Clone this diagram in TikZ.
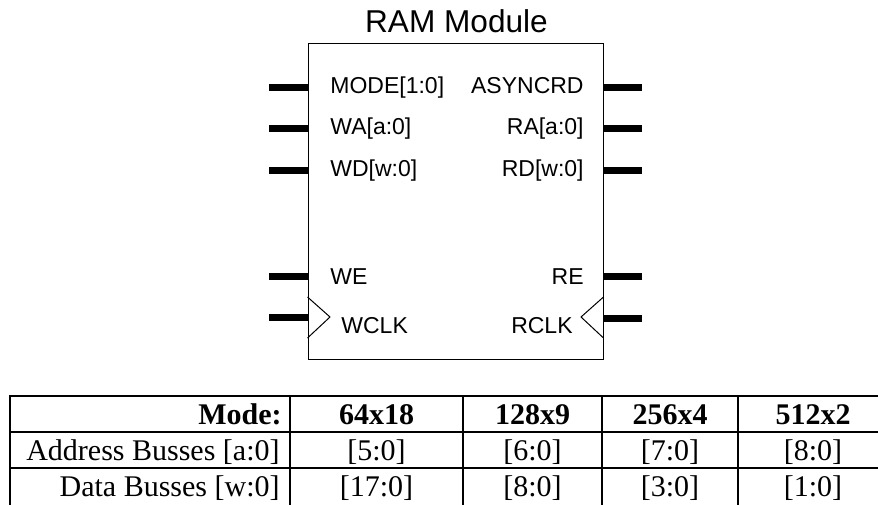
\documentclass[tikz,border=0pt]{standalone}
\usepackage{fontspec}
\setmainfont{Liberation Serif}
\newfontfamily\pinfont{Liberation Sans}
\usetikzlibrary{positioning}

\begin{document}
\begin{tikzpicture}[x=.5pt,y=-.5pt,
	bus/.style={line width=3.5pt},
	sig/.style={font=\pinfont\fontsize{11.5}{13}\selectfont,inner sep=0pt},
	cell/.style={font=\fontsize{15}{17}\selectfont,inner sep=0pt},
	grid/.style={line width=1pt}]
	\useasboundingbox (0,0) rectangle (878,504);

	% le module
	\node[draw,line width=.5pt,minimum width=147.5pt,minimum height=158pt,inner sep=0pt] (ram) at (455.5,201) {};
	\node[font=\pinfont\fontsize{15.8}{18}\selectfont,inner sep=0pt,anchor=base] (title) at (456.5,32) {RAM Module};

	% entrees
	\foreach \y/\b/\nm/\txt in {87/93/mode/{MODE[1:0]},128/134/wa/{WA[a:0]},170/176/wd/{WD[w:0]},276/284/we/WE} {
		\coordinate (\nm) at (269,\y);
		\draw[bus] (\nm) -- (ram.west |- \nm);
		\node[sig,anchor=base west] (\nm lbl) at (330,\b) {\txt};
	}
	\coordinate (wclk) at (269,317);
	\draw[bus] (wclk) -- (ram.west |- wclk);
	\draw[line width=.5pt] (ram.west |- 0,297) -- (330,317) -- (ram.west |- 0,338);
	\node[sig,anchor=base west] (wclk lbl) at (341,333) {WCLK};

	% sorties
	\foreach \y/\b/\nm/\txt in {87/93/async/ASYNCRD,128/134/ra/{RA[a:0]},170/176/rd/{RD[w:0]},276/284/re/RE} {
		\coordinate (\nm) at (642,\y);
		\draw[bus] (\nm) -- (ram.east |- \nm);
		\node[sig,anchor=base east] (\nm lbl) at (584,\b) {\txt};
	}
	\coordinate (rclk) at (642,318);
	\draw[bus] (rclk) -- (ram.east |- rclk);
	\draw[line width=.5pt] (ram.east |- 0,297) -- (581,317) -- (ram.east |- 0,338);
	\node[sig,anchor=base east] (rclk lbl) at (573,333) {RCLK};

	% le tableau
	\foreach \y in {396,432,468} \draw[grid] (9,\y) -- (880,\y);
	\foreach \x in {9.5,290,463,602,738} \draw[grid] (\x,395.5) -- (\x,506);

	\node[cell,anchor=base east] (hmode) at (282,424) {\textbf{Mode:}};
	\node[cell,anchor=base east] (haddr) at (280,460) {Address Busses [a:0]};
	\node[cell,anchor=base east] (hdata) at (280,496) {Data Busses [w:0]};
	\foreach \x/\m/\a/\d/\nm in {376.5/64x18/{[5:0]}/{[17:0]}/c1,532.5/128x9/{[6:0]}/{[8:0]}/c2,
		670/256x4/{[7:0]}/{[3:0]}/c3,813/512x2/{[8:0]}/{[1:0]}/c4} {
		\node[cell,anchor=base] (\nm m) at (\x,424) {\textbf{\m}};
		\node[cell,anchor=base] (\nm a) at (\x,460) {\a};
		\node[cell,anchor=base] (\nm d) at (\x,496) {\d};
	}
\end{tikzpicture}
\end{document}
